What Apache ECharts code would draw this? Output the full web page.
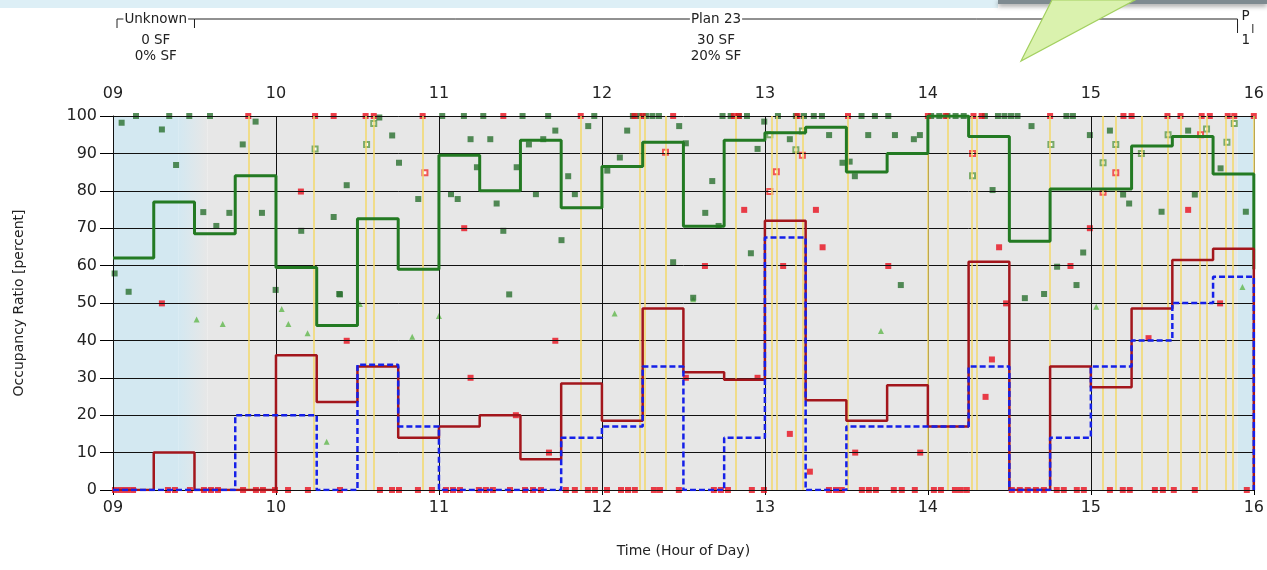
<!DOCTYPE html>
<html><head><meta charset="utf-8">
<script src="https://cdn.jsdelivr.net/npm/echarts@6/dist/echarts.min.js"></script>
<style>html,body{margin:0;padding:0;background:#fff}#c{width:1267px;height:570px}</style>
</head><body><div id="c"></div>
<script>
// ---- data ----
const binTimes = [9,9.25,9.5,9.75,10,10.25,10.5,10.75,11,11.25,11.5,11.75,12,12.25,12.5,12.75,13,13.25,13.5,13.75,14,14.25,14.5,14.75,15,15.25,15.5,15.75,16];
const greenLine = [62,77,68.5,84,59.5,44,72.5,59,89.5,80,93.5,75.5,86.5,93,70.5,93.5,95.5,97,85,90,100,94.5,66.5,80.5,80.5,92,94.5,84.5];
const redLine   = [0,10,0,0,36,23.5,33,14,17,20,8.2,28.5,18.5,48.5,31.5,29.5,72,24,18.5,28,17,61,0,33,27.5,48.5,61.5,64.5];
const blueLine  = [0,0,0,20,20,0,33.5,17,0,0,0,14,17,33,0,14,67.5,0,17,17,17,33,0,14,33,40,50,57];
const greenEnd = 59, redEnd = 0, blueEnd = 0;

const greenSquares = [[9.053,98.2],[9.141,100],[9.30,96.4],[9.345,100],[9.468,100],[9.595,100],[9.387,86.9],[9.875,98.5],[9.796,92.4],[9.01,57.9],[9.096,53],[9.554,74.3],[9.714,74.1],[9.634,70.6],[9.914,74.1],[9.998,53.5],[10.393,52.3],[10.354,73],[10.434,81.5],[10.713,94.8],[10.755,87.5],[10.873,77.8],[10.634,99.6],[10.155,69.3],[11.02,100],
[11.153,100],[11.272,100],[11.513,100],[11.67,100],[11.953,100],[11.916,97.3],[11.714,96.1],[11.194,93.8],[11.315,93.8],[11.552,92.4],[11.64,93.8],[11.233,86.3],[11.477,86.3],[11.793,83.9],[11.074,79.1],[11.115,77.8],[11.354,76.6],[11.595,79.1],[11.834,79.1],[11.395,69.3],[11.752,66.8],[11.431,52.3],
[12.155,96.1],[12.11,88.9],[12.033,85.4],[12.474,97.3],[12.515,92.7],[12.677,82.6],[12.634,74.1],[12.716,70.6],[12.914,63.3],[12.437,60.9],[12.56,51.4],[12.955,91.2],[12.996,98.5],[13.153,93.8],[13.394,94.9],[13.476,87.5],
[12.19,100],[12.23,100],[12.27,100],[12.31,100],[12.35,100],[12.74,100],[12.79,100],[12.84,100],[12.89,100],[13.08,100],[13.19,100],[13.24,100],[13.30,100],[13.35,100],
[13.634,94.9],[13.798,94.9],[13.914,93.8],[13.951,94.9],[13.552,83.9],[13.52,87.8],[13.593,100],[13.675,100],[13.757,100],[14.02,100],[14.07,100],[14.12,100],[14.17,100],[14.22,100],[14.35,100],[14.43,100],[14.47,100],[14.51,100],[14.55,100],[14.85,100],[14.89,100],
[14.636,97.3],[14.397,80.2],[14.994,94.9],[15.117,96.1],[15.198,79],[15.235,76.6],[15.434,74.4],[15.597,96.1],[15.796,86],[15.638,79],[15.951,74.4],[13.834,54.8],[14.953,63.5],[14.912,54.8],[14.793,59.7],[14.595,51.3],[14.713,52.4],[10.388,52.4]];

const redSquares = [[9.30,49.9],[10.153,79.8],[10.434,39.9],[11.155,70],[11.194,30],[11.472,20],[11.675,10],[11.714,39.9],[12.515,30],[12.955,30],[12.873,74.9],[12.632,59.9],[13.112,59.9],[13.153,15],[13.276,4.9],[13.313,74.9],[13.354,64.9],[13.554,10],[13.757,59.9],[13.953,10],[14.354,24.9],[14.393,34.9],[14.437,64.9],[14.48,49.9],[14.875,59.9],[14.994,70],[15.354,40.6],[15.597,74.9],[15.793,49.9],
[9.83,100],[10.24,100],[10.354,100],[10.55,100],[10.6,100],[10.9,100],[11.395,100],[11.87,100],[12.2,100],[12.25,100],[12.437,100],[12.81,100],[12.84,100],[13.2,100],[13.51,100],[14.0,100],[14.11,100],[14.28,100],[14.33,100],[14.75,100],[15.2,100],[15.25,100],[15.47,100],[15.55,100],[15.68,100],[15.73,100],[15.84,100],[15.88,100],[16.0,100]];

const redZeroTimes = [9.012,9.049,9.086,9.123,9.337,9.380,9.472,9.558,9.601,9.644,9.798,9.877,9.920,9.994,10.074,10.196,10.393,10.638,10.712,10.755,10.871,10.957,11.043,11.086,11.129,11.245,11.288,11.331,11.436,11.528,11.577,11.626,11.779,11.834,11.914,11.957,12.031,12.117,12.160,12.202,12.319,12.356,12.472,12.687,12.730,12.773,12.920,12.994,13.393,13.436,13.472,13.595,13.638,13.681,13.791,13.840,13.920,14.037,14.080,14.166,14.202,14.239,14.515,14.564,14.613,14.663,14.712,14.791,14.834,14.914,14.957,15.117,15.196,15.239,15.393,15.442,15.509,15.638,15.957];

const greenHollow = [[10.24,91.2],[10.556,92.4],[10.6,98],[13.03,95],[13.19,91],[13.23,96],[14.755,92.4],[15.153,92.4],[15.075,87.5],[14.274,84],[15.474,95],[15.71,96.5],[15.835,93],[15.88,98],[15.31,90]];
const redHollow = [[10.914,84.8],[12.39,90.3],[13.07,85.1],[13.03,79.8],[13.23,89.5],[14.274,90],[15.153,84.8],[15.075,79.6],[15.673,95]];
const greenTriangles = [[9.513,45.6],[9.673,44.4],[10.035,48.4],[10.076,44.4],[10.194,41.9],[10.311,12.9],[10.836,41],[11.0,46.5],[10.515,49.7],[12.078,47.2],[13.712,42.5],[15.033,49],[15.93,54.3],[12.56,51]];

const eventTimes = [9.828,10.235,10.546,10.597,10.900,11.865,12.229,12.264,12.388,12.822,13.041,13.072,13.194,13.231,13.505,13.996,14.115,14.274,14.302,14.753,15.066,15.153,15.311,15.474,15.546,15.673,15.710,15.833,15.873,15.996];

const planNames = ['Unknown','Plan 23','P'];
const planStart = [9, 9.5, 15.9];
const planEnd   = [9.5, 15.9, 16];
const planLine2 = ['0 SF','30 SF','1'];
const planLine3 = ['0% SF','20% SF',''];

const yTicks = [0,10,20,30,40,50,60,70,80,90,100];
const xTicks = [9,10,11,12,13,14,15,16];

// ---- build ----
function steps(vals, endVal){
  const d = vals.map((v,i)=>[binTimes[i], v]);
  d.push([binTimes[binTimes.length-1], vals[vals.length-1]]);
  d.push([binTimes[binTimes.length-1], endVal]);
  return d;
}
const FONT = 'DejaVu Sans';
const BLUE_BG = '#D3E8F1', GREY_BG = '#E7E7E7';
const hourFmt = v => (v<10?'0':'') + v;

const chart = echarts.init(document.getElementById('c'), null, {renderer:'canvas'});
const option = {
  animation: false,
  backgroundColor: '#fff',
  textStyle: {fontFamily: FONT},
  grid: {left: 113, right: 13, top: 116, bottom: 80},
  xAxis: [{
    type: 'value', min: 9, max: 16, interval: 1, position: 'bottom',
    name: 'Time (Hour of Day)', nameLocation: 'middle', nameGap: 54,
    nameTextStyle: {fontFamily: FONT, fontSize: 14, color: '#222'},
    axisLine: {show: true, lineStyle: {color: '#000', width: 1}},
    axisTick: {show: true, length: 5, lineStyle: {color: '#000'}},
    axisLabel: {formatter: hourFmt, fontFamily: FONT, fontSize: 16, color: '#222', margin: 10},
    splitLine: {show: false}
  },{
    type: 'value', min: 9, max: 16, interval: 1, position: 'top',
    axisLine: {show: false}, axisTick: {show: false},
    axisLabel: {formatter: hourFmt, fontFamily: FONT, fontSize: 16, color: '#222', margin: 14},
    splitLine: {show: false}
  }],
  yAxis: {
    type: 'value', min: 0, max: 100, interval: 10,
    name: 'Occupancy Ratio [percent]', nameLocation: 'middle', nameGap: 87,
    nameTextStyle: {fontFamily: FONT, fontSize: 14, color: '#222'},
    axisLine: {show: true, lineStyle: {color: '#000'}},
    axisTick: {show: true, length: 13, lineStyle: {color: '#000'}},
    axisLabel: {fontFamily: FONT, fontSize: 16, color: '#222', margin: 16,
      formatter: v => yTicks.includes(v) ? String(v) : ''},
    splitLine: {show: false}
  },
  series: [
    {
      type: 'line', z: 1, data: [[9,0]], symbol: 'none', silent: true,
      lineStyle: {opacity: 0},
      markArea: {silent: true, data: [
        [{xAxis: planStart[0], yAxis: 0, itemStyle: {color: BLUE_BG}}, {xAxis: 9.4, yAxis: 100}],
        [{xAxis: 9.4, yAxis: 0, itemStyle: {color: {type:'linear', x:0, y:0, x2:1, y2:0, colorStops:[{offset:0,color:BLUE_BG},{offset:1,color:GREY_BG}]}}}, {xAxis: 9.58, yAxis: 100}],
        [{xAxis: 9.58, yAxis: 0, itemStyle: {color: GREY_BG}}, {xAxis: planEnd[1], yAxis: 100}],
        [{xAxis: planStart[2], yAxis: 0, itemStyle: {color: BLUE_BG}}, {xAxis: planEnd[2], yAxis: 100}]
      ]}
    },
    {
      type: 'line', z: 2, data: [[9,0]], symbol: 'none', silent: true,
      lineStyle: {opacity: 0},
      markLine: {silent: true, symbol: 'none', label: {show: false},
        lineStyle: {color: '#111', width: 1, type: 'solid'},
        data: yTicks.map(v => ({yAxis: v})).concat(xTicks.map(t => ({xAxis: t})))}
    },
    {
      type: 'line', z: 3, data: [[9,0]], symbol: 'none', silent: true,
      lineStyle: {opacity: 0},
      markLine: {silent: true, symbol: 'none', label: {show: false},
        lineStyle: {color: '#F3D96A', width: 1.5, type: 'solid'},
        data: eventTimes.map(t => ({xAxis: t}))}
    },
    {type: 'scatter', z: 4, data: greenTriangles, symbol: 'triangle', symbolSize: 6, itemStyle: {color: '#62B84E'}},
    {type: 'scatter', z: 4, data: greenHollow, symbol: 'emptyRect', symbolSize: 5, itemStyle: {color: '#5E9A4A', borderWidth: 1}},
    {type: 'scatter', z: 4, data: redHollow, symbol: 'emptyRect', symbolSize: 5, itemStyle: {color: '#F03030', borderWidth: 1}},
    {type: 'scatter', z: 4, data: greenSquares, symbol: 'rect', symbolSize: 6, itemStyle: {color: '#2B7030'}},
    {type: 'scatter', z: 4, data: redSquares, symbol: 'rect', symbolSize: 6, itemStyle: {color: '#E8101E'}},
    {type: 'scatter', z: 4, data: redZeroTimes.map(t => [t, 0]), symbol: 'rect', symbolSize: 6, itemStyle: {color: '#E8101E'}},
    {type: 'line', z: 5, step: 'end', data: steps(greenLine, greenEnd), symbol: 'none',
      lineStyle: {color: '#237A23', width: 3}},
    {type: 'line', z: 6, step: 'end', data: steps(redLine, redEnd), symbol: 'none',
      lineStyle: {color: '#A3161C', width: 2.5}},
    {type: 'line', z: 7, step: 'end', data: steps(blueLine, blueEnd), symbol: 'none',
      lineStyle: {color: '#1520E8', width: 2.5, type: [6, 3]}}
  ]
};
chart.setOption(option);

// ---- plan bracket band & decorations ----
function px(t){ return chart.convertToPixel({xAxisIndex: 0}, t); }
const g = [];
g.push({type:'rect', shape:{x:0,y:0,width:998,height:8}, style:{fill:'#DDEFF6'}, z:10});
g.push({type:'rect', shape:{x:998,y:0,width:269,height:4}, style:{fill:'#7E8A90', shadowBlur:5, shadowColor:'rgba(0,0,0,0.45)', shadowOffsetY:2}, z:11});
g.push({type:'polygon', shape:{points:[[1021,61],[1052,0],[1135,0]]}, style:{fill:'#DAF2AE', stroke:'#A3D060', lineWidth:1.2}, z:12});

const bandY = 19;
const F13 = '13.5px "DejaVu Sans"';
for (let i = 0; i < planNames.length; i++) {
  const x0 = px(planStart[i]) + (i===0 ? 4 : 0), x1 = px(planEnd[i]);
  const cx = (x0 + x1) / 2;
  if (i < 2) {
    g.push({type:'line', shape:{x1:x0, y1:bandY, x2:x1, y2:bandY}, style:{stroke:'#222', lineWidth:1}, z:5});
    g.push({type:'line', shape:{x1:x0, y1:bandY, x2:x0, y2:bandY+9}, style:{stroke:'#222', lineWidth:1}, z:5});
    g.push({type:'line', shape:{x1:x1, y1:bandY, x2:x1, y2:bandY+9}, style:{stroke:'#222', lineWidth:1}, z:5});
    g.push({type:'text', x:cx, y:bandY, style:{text:planNames[i], fill:'#222', font:F13, align:'center', verticalAlign:'middle', backgroundColor:'#fff', padding:[0,1]}, z:6});
  } else {
    g.push({type:'line', shape:{x1:x0, y1:bandY+5, x2:x0, y2:bandY+14}, style:{stroke:'#222', lineWidth:1}, z:5});
    g.push({type:'line', shape:{x1:x1-1, y1:bandY+5, x2:x1-1, y2:bandY+14}, style:{stroke:'#222', lineWidth:1}, z:5});
    g.push({type:'text', x:cx, y:bandY-3, style:{text:planNames[i], fill:'#222', font:F13, align:'center', verticalAlign:'middle'}, z:6});
  }
  g.push({type:'text', x:cx, y:40, style:{text:planLine2[i], fill:'#222', font:F13, align:'center', verticalAlign:'middle'}, z:6});
  if (planLine3[i]) g.push({type:'text', x:cx, y:56, style:{text:planLine3[i], fill:'#222', font:F13, align:'center', verticalAlign:'middle'}, z:6});
}
chart.setOption({graphic: g});
</script>
</body></html>
